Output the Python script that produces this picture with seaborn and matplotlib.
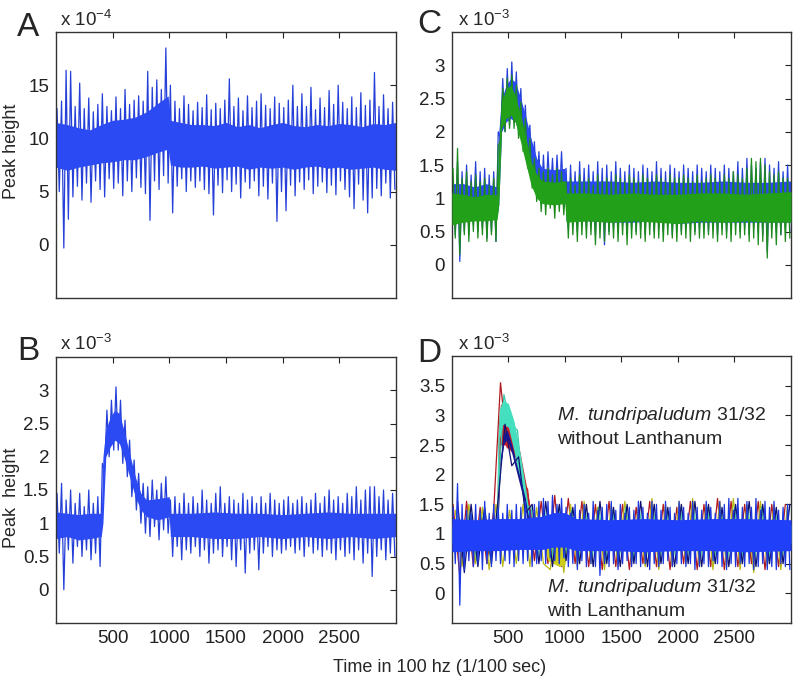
"""Peak height traces (A-D), redrawn from the figure."""

import matplotlib
matplotlib.use("Agg")
import matplotlib.pyplot as plt
import numpy as np
import seaborn as sns

sns.set_style("white")
plt.rcParams["font.family"] = ["Liberation Sans", "DejaVu Sans"]
plt.rcParams["mathtext.fontset"] = "custom"
plt.rcParams["mathtext.rm"] = "Liberation Sans"
plt.rcParams["mathtext.it"] = "Liberation Sans:italic"
plt.rcParams["mathtext.default"] = "regular"

# ---- data (time in 1/100 s) ----
# spike tips, alternating up/down along each trace
spike_t = np.arange(10, 3000, 20)          # A, B, C, D-blue (150 tips)
spike_t_red = np.arange(10, 3000, 60)      # extra traces in D (50 tips)
spike_t_yel = np.arange(30, 3000, 60)
spike_t_cyan = np.arange(40, 3000, 60)
spike_t_navy = np.arange(50, 3000, 60)

# Panel A (x 1e-4)
a_core_t = [0, 100, 200, 300, 400, 500, 600, 700, 800, 900, 990, 1010, 1100,
            1200, 1300, 1400, 1500, 1600, 1700, 1800, 1900, 2000, 2100, 2200,
            2300, 2400, 2500, 2600, 2700, 2800, 2900, 3000]
a_core_hi = [11.5, 11.3, 11.0, 10.8, 11.3, 11.7, 11.8, 12.0, 12.5, 13.3, 14.0,
             11.7, 11.5, 11.3, 11.3, 11.2, 11.5, 11.1, 11.3, 11.0, 11.3, 11.5,
             11.2, 11.1, 11.3, 11.2, 11.4, 11.3, 11.1, 11.4, 11.3, 11.5]
a_core_lo = [7.3, 7.0, 7.3, 7.5, 7.7, 7.8, 8.0, 8.0, 8.3, 8.7, 9.0, 7.5, 7.3,
             7.3, 7.4, 7.2, 7.3, 7.4, 7.1, 7.3, 7.2, 7.3, 7.1, 7.3, 7.4, 7.2,
             7.3, 7.1, 7.2, 7.3, 7.1, 7.0]
a_spikes = [12.8, 5.0, 13.5, -0.3, 16.4, 2.4, 16.3, 4.5, 13.0, 5.5,
            15.2, 4.2, 12.8, 5.8, 13.8, 4.0, 12.5, 6.0, 13.2, 5.2,
            14.2, 4.5, 13.0, 6.2, 12.6, 5.3, 13.9, 5.8, 12.8, 4.6,
            14.6, 6.0, 13.2, 5.0, 13.6, 6.3, 14.0, 5.4, 13.5, 4.8,
            16.3, 2.3, 14.8, 6.0, 15.5, 5.2, 14.6, 6.5, 18.5, 5.8,
            15.0, 3.0, 13.5, 5.5, 12.8, 6.2, 14.0, 5.0, 13.2, 6.0,
            12.6, 5.4, 13.4, 6.0, 12.9, 5.2, 14.1, 4.8, 12.7, 2.8,
            13.3, 5.6, 12.8, 4.9, 13.6, 6.1, 15.6, 5.0, 13.0, 5.7,
            13.8, 4.4, 12.6, 5.9, 14.0, 5.3, 12.9, 6.0, 13.5, 4.6,
            14.2, 5.5, 13.1, 4.3, 12.8, 5.8, 13.9, 2.2, 13.3, 5.0,
            12.9, 3.2, 13.6, 5.6, 15.0, 4.6, 13.0, 5.9, 14.2, 5.2,
            13.0, 6.1, 14.8, 4.8, 12.7, 5.5, 13.8, 5.9, 12.9, 4.9,
            14.5, 5.6, 13.2, 4.7, 15.0, 6.0, 13.4, 5.2, 12.8, 4.5,
            13.9, 3.4, 12.9, 5.7, 14.3, 4.2, 13.1, 3.0, 13.6, 4.4,
            16.2, 5.3, 13.0, 4.6, 14.1, 5.8, 12.8, 4.4, 13.4, 5.2]

# Panels B and C (x 1e-3)
peak_core_t = [0, 100, 200, 300, 400, 415, 440, 480, 520, 560, 600, 650, 700,
               750, 800, 900, 1000, 1010, 1200, 1400, 1600, 1800, 2000, 2200,
               2400, 2600, 2800, 3000]
b_core_hi = [1.17, 1.15, 1.13, 1.15, 1.15, 2.0, 2.4, 2.6, 2.7, 2.65, 2.4, 2.05,
             1.7, 1.45, 1.35, 1.37, 1.4, 1.15, 1.15, 1.17, 1.15, 1.15, 1.13,
             1.15, 1.17, 1.15, 1.15, 1.15]
b_core_lo = [0.77, 0.8, 0.75, 0.77, 0.8, 1.0, 2.0, 2.15, 2.25, 2.2, 2.0, 1.7,
             1.4, 1.2, 1.1, 1.05, 1.1, 0.8, 0.8, 0.77, 0.77, 0.8, 0.77, 0.8,
             0.77, 0.8, 0.77, 0.8]
b_spikes = [1.45, 0.55, 1.6, 0.0, 1.35, 0.6, 1.5, 0.4, 1.3, 0.65,
            1.45, 0.5, 1.25, 0.6, 1.5, 0.45, 1.3, 0.55, 1.4, 0.35,
            1.9, 1.8, 2.7, 2.0, 2.85, 2.1, 3.05, 2.1, 2.85, 1.9,
            2.55, 1.7, 2.25, 1.4, 1.95, 1.2, 1.75, 1.0, 1.6, 0.85,
            1.55, 0.8, 1.65, 0.95, 1.5, 0.75, 1.6, 0.9, 1.7, 0.85,
            1.35, 0.5, 1.4, 0.65, 1.3, 0.45, 1.45, 0.6, 1.3, 0.55,
            1.4, 0.65, 1.3, 0.5, 1.5, 0.6, 1.35, 0.4, 1.3, 0.55,
            1.45, 0.6, 1.55, 0.5, 1.3, 0.65, 1.4, 0.45, 1.35, 0.35,
            1.3, 0.6, 1.45, 0.25, 1.35, 0.55, 1.4, 0.6, 1.3, 0.3,
            1.4, 0.55, 1.3, 0.65, 1.45, 0.5, 1.35, 0.6, 1.3, 0.55,
            1.35, 0.6, 1.4, 0.65, 1.3, 0.55, 1.35, 0.6, 1.4, 0.5,
            1.3, 0.65, 1.35, 0.55, 1.45, 0.6, 1.3, 0.5, 1.4, 0.6,
            1.5, 0.55, 1.35, 0.45, 1.4, 0.6, 1.3, 0.5, 1.45, 0.55,
            1.4, 0.45, 1.55, 0.6, 1.35, 0.4, 1.5, 0.55, 1.55, 0.2,
            1.55, 0.5, 1.4, 0.6, 1.5, 0.45, 1.35, 0.55, 1.45, 0.5]

c_blue_hi = [1.22, 1.22, 1.17, 1.22, 1.17, 2.0, 2.5, 2.7, 2.8, 2.75, 2.55,
             2.25, 1.9, 1.6, 1.45, 1.43, 1.45, 1.26, 1.26, 1.26, 1.24, 1.26,
             1.24, 1.24, 1.26, 1.24, 1.24, 1.26]
c_blue_lo = [0.68, 0.73, 0.68, 0.68, 0.73, 0.9, 2.0, 2.15, 2.2, 2.15, 1.95,
             1.65, 1.35, 1.15, 1.05, 1.03, 1.05, 0.66, 0.66, 0.64, 0.64, 0.66,
             0.62, 0.64, 0.64, 0.64, 0.64, 0.64]
c_blue_spikes = [1.3, 0.45, 1.55, 0.05, 1.4, 0.5, 1.5, 0.45, 1.35, 0.6,
                 1.55, 0.5, 1.4, 0.55, 1.45, 0.4, 1.35, 0.5, 1.4, 0.35,
                 2.0, 1.9, 2.8, 2.0, 2.95, 2.1, 3.05, 2.15, 2.9, 2.0,
                 2.65, 1.8, 2.4, 1.55, 2.1, 1.3, 1.85, 1.1, 1.7, 0.95,
                 1.65, 0.9, 1.7, 1.0, 1.6, 0.9, 1.65, 0.95, 1.7, 0.9,
                 1.45, 0.55, 1.5, 0.6, 1.4, 0.5, 1.55, 0.6, 1.45, 0.55,
                 1.5, 0.6, 1.4, 0.45, 1.55, 0.55, 1.45, 0.3, 1.5, 0.5,
                 1.4, 0.55, 1.55, 0.5, 1.45, 0.6, 1.4, 0.45, 1.5, 0.55,
                 1.45, 0.5, 1.4, 0.55, 1.5, 0.45, 1.45, 0.6, 1.4, 0.5,
                 1.55, 0.55, 1.45, 0.5, 1.4, 0.6, 1.5, 0.45, 1.45, 0.55,
                 1.4, 0.5, 1.5, 0.55, 1.45, 0.6, 1.4, 0.5, 1.5, 0.55,
                 1.45, 0.6, 1.4, 0.5, 1.5, 0.55, 1.45, 0.45, 1.4, 0.55,
                 1.5, 0.5, 1.45, 0.55, 1.4, 0.6, 1.55, 0.5, 1.45, 0.55,
                 1.6, 0.45, 1.5, 0.55, 1.45, 0.5, 1.55, 0.45, 1.6, 0.2,
                 1.5, 0.55, 1.45, 0.5, 1.55, 0.45, 1.4, 0.55, 1.5, 0.5]
c_green_hi = [1.08, 1.06, 1.02, 1.06, 1.05, 1.8, 2.45, 2.65, 2.7, 2.55, 2.3,
              1.95, 1.55, 1.36, 1.26, 1.24, 1.26, 1.08, 1.08, 1.06, 1.08, 1.06,
              1.06, 1.08, 1.08, 1.06, 1.08, 1.1]
c_green_lo = [0.6, 0.64, 0.66, 0.66, 0.68, 0.9, 2.05, 2.2, 2.25, 2.15, 1.9,
              1.55, 1.2, 1.0, 0.92, 0.9, 0.92, 0.64, 0.66, 0.64, 0.66, 0.64,
              0.62, 0.66, 0.64, 0.66, 0.64, 0.64]
c_green_spikes = [1.45, 0.4, 1.75, 0.15, 1.3, 0.45, 1.4, 0.35, 1.25, 0.5,
                  1.35, 0.4, 1.25, 0.45, 1.3, 0.35, 1.2, 0.45, 1.3, 0.35,
                  1.8, 1.85, 2.65, 2.0, 2.8, 2.05, 2.85, 2.05, 2.7, 1.9,
                  2.45, 1.7, 2.2, 1.45, 1.9, 1.15, 1.6, 0.95, 1.45, 0.8,
                  1.4, 0.75, 1.45, 0.85, 1.35, 0.7, 1.45, 0.8, 1.4, 0.75,
                  1.25, 0.4, 1.3, 0.45, 1.2, 0.35, 1.35, 0.45, 1.25, 0.4,
                  1.3, 0.45, 1.2, 0.3, 1.35, 0.4, 1.25, 0.35, 1.3, 0.45,
                  1.25, 0.4, 1.35, 0.35, 1.3, 0.45, 1.25, 0.3, 1.35, 0.4,
                  1.3, 0.45, 1.25, 0.4, 1.35, 0.35, 1.3, 0.45, 1.25, 0.4,
                  1.35, 0.4, 1.3, 0.35, 1.25, 0.45, 1.35, 0.4, 1.3, 0.35,
                  1.3, 0.45, 1.35, 0.4, 1.3, 0.35, 1.25, 0.45, 1.35, 0.4,
                  1.25, 0.4, 1.3, 0.45, 1.35, 0.4, 1.3, 0.35, 1.25, 0.45,
                  1.35, 0.4, 1.3, 0.35, 1.4, 0.45, 1.35, 0.4, 1.3, 0.45,
                  1.45, 0.35, 1.6, 0.4, 1.55, 0.3, 1.6, 0.35, 1.5, 0.1,
                  1.4, 0.4, 1.35, 0.3, 1.4, 0.45, 1.3, 0.35, 1.3, 0.4]

# Panel D (x 1e-3)
d_blue_t = [0, 200, 400, 600, 800, 900, 1000, 1100, 1400, 1700, 2000, 2300,
            2600, 3000]
d_blue_hi = [1.26, 1.24, 1.26, 1.26, 1.3, 1.36, 1.36, 1.26, 1.24, 1.26, 1.24,
             1.26, 1.26, 1.24]
d_blue_lo = [0.7, 0.72, 0.72, 0.74, 0.74, 0.78, 0.78, 0.72, 0.72, 0.7, 0.72,
             0.72, 0.7, 0.72]
d_blue_spikes = [1.45, 0.5, 1.85, -0.2, 1.5, 0.4, 1.4, 0.55, 1.35, 0.45,
                 1.5, 0.5, 1.4, 0.4, 1.55, 0.5, 1.35, 0.45, 1.5, 0.55,
                 1.45, 0.5, 1.35, 0.55, 1.5, 0.5, 1.4, 0.45, 1.5, 0.55,
                 1.45, 0.5, 1.55, 0.55, 1.4, 0.45, 1.5, 0.5, 1.55, 0.55,
                 1.6, 0.5, 1.55, 0.6, 1.65, 0.55, 1.5, 0.5, 1.6, 0.6,
                 1.45, 0.45, 1.35, 0.5, 1.5, 0.4, 1.4, 0.55, 1.5, 0.45,
                 1.35, 0.5, 1.55, 0.45, 1.4, 0.3, 1.45, 0.5, 1.5, 0.45,
                 1.55, 0.5, 1.4, 0.4, 1.5, 0.5, 1.35, 0.55, 1.45, 0.45,
                 1.4, 0.5, 1.55, 0.45, 1.45, 0.5, 1.35, 0.4, 1.55, 0.5,
                 1.5, 0.45, 1.4, 0.5, 1.55, 0.55, 1.45, 0.45, 1.35, 0.5,
                 1.55, 0.5, 1.45, 0.45, 1.35, 0.5, 1.55, 0.4, 1.45, 0.45,
                 1.4, 0.5, 1.55, 0.45, 1.45, 0.55, 1.35, 0.5, 1.55, 0.45,
                 1.5, 0.4, 1.6, 0.5, 1.4, 0.45, 1.6, 0.5, 1.45, 0.45,
                 1.55, 0.5, 1.45, 0.4, 1.6, 0.45, 1.4, 0.5, 1.55, 0.4,
                 1.45, 0.45, 1.55, 0.4, 1.4, 0.5, 1.45, 0.45, 1.5, 0.4]

d_red_t = [0, 395, 410, 430, 470, 520, 560, 600, 640, 680, 720, 3000]
d_red_hi = [1.15, 1.15, 2.8, 3.2, 3.1, 2.9, 2.75, 2.4, 2.0, 1.6, 1.15, 1.15]
d_red_lo = [0.85, 0.85, 1.3, 2.5, 2.5, 2.4, 2.3, 2.0, 1.6, 1.2, 0.85, 0.85]
d_red_spikes = [1.5, 0.3, 1.55, 0.45, 1.45, 0.5, 1.4, 3.55, 2.45, 2.85,
                1.95, 1.75, 0.55, 1.55, 0.5, 1.65, 0.45, 1.6, 0.5, 1.55,
                0.45, 1.5, 0.4, 1.55, 0.45, 1.5, 0.4, 1.45, 0.5, 1.55,
                0.45, 1.5, 0.4, 1.45, 0.5, 1.55, 0.4, 1.5, 0.45, 1.6,
                0.4, 1.55, 0.45, 1.5, 0.5, 1.55, 0.4, 1.5, 0.45, 1.5]

d_yel_t = [0, 800, 850, 900, 950, 1000, 1030, 3000]
d_yel_hi = [1.15, 1.15, 1.1, 1.1, 1.1, 1.1, 1.15, 1.15]
d_yel_lo = [0.85, 0.85, 0.55, 0.5, 0.45, 0.5, 0.85, 0.85]
d_yel_spikes = [1.4, 0.45, 1.5, 0.5, 1.45, 0.4, 1.5, 0.45, 1.4, 0.5,
                1.5, 0.45, 1.45, 0.5, 0.4, 1.3, 0.35, 1.5, 0.45, 1.55,
                0.5, 1.45, 0.4, 1.5, 0.45, 1.55, 0.5, 1.45, 0.45, 1.6,
                0.4, 1.5, 0.45, 1.55, 0.5, 1.6, 0.45, 1.5, 0.4, 1.55,
                0.45, 1.6, 0.4, 1.5, 0.35, 1.55, 0.45, 1.5, 0.4, 1.5]

d_cyan_t = [0, 395, 405, 420, 450, 500, 550, 600, 650, 680, 700, 3000]
d_cyan_hi = [1.15, 1.15, 2.5, 3.1, 3.25, 3.2, 2.9, 2.4, 1.8, 1.4, 1.15, 1.15]
d_cyan_lo = [0.85, 0.85, 1.2, 2.6, 2.85, 2.8, 2.4, 1.9, 1.45, 1.1, 0.85, 0.85]
d_cyan_spikes = [1.35, 0.6, 1.4, 0.55, 1.35, 0.6, 1.3, 3.35, 2.85, 2.75,
                 1.5, 1.45, 0.6, 1.4, 0.55, 1.45, 0.6, 1.4, 0.55, 1.4,
                 0.6, 1.45, 0.55, 1.4, 0.6, 1.45, 0.55, 1.4, 0.6, 1.45,
                 0.55, 1.4, 0.6, 1.45, 0.55, 1.4, 0.6, 1.45, 0.55, 1.4,
                 0.6, 1.45, 0.55, 1.4, 0.6, 1.45, 0.55, 1.4, 0.6, 1.4]

d_navy_t = [0, 400, 430, 460, 490, 530, 570, 610, 650, 690, 3000]
d_navy_hi = [1.15, 1.15, 2.3, 2.7, 2.75, 2.5, 2.2, 1.9, 1.6, 1.15, 1.15]
d_navy_lo = [0.85, 0.85, 2.15, 2.52, 2.6, 2.36, 2.06, 1.76, 1.46, 0.85, 0.85]
d_navy_spikes = [1.55, 0.35, 1.5, 0.45, 1.45, 0.5, 1.6, 2.85, 2.15, 2.3,
                 1.35, 1.5, 0.5, 1.55, 0.45, 1.5, 0.55, 1.45, 0.5, 1.5,
                 0.45, 1.55, 0.5, 1.45, 0.45, 1.5, 0.5, 1.55, 0.45, 1.5,
                 0.5, 1.45, 0.45, 1.5, 0.5, 1.55, 0.45, 1.5, 0.5, 1.45,
                 0.45, 1.5, 0.5, 1.55, 0.45, 1.5, 0.5, 1.45, 0.5, 1.5]

BLUE, BLUE_EDGE = "#2b4af3", "#2540d8"
GREEN, GREEN_EDGE = "#22a01a", "#1d8a1d"
X_TICKS = [500, 1000, 1500, 2000, 2500]


def draw_trace(ax, z, core_t, hi, lo, spk_t, spk_v, fill, edge, lw=0.9):
    """Spikes as a thin zigzag, dense core band painted over it."""
    sns.lineplot(x=spk_t, y=spk_v, ax=ax, color=edge, lw=lw,
                 estimator=None, zorder=z)
    ax.fill_between(core_t, lo, hi, color=fill, lw=0, zorder=z + 0.5)


def style_axes(ax, ylim, yticks, xlabels):
    ax.set_xlim(1, 3000)
    ax.set_ylim(*ylim)
    ax.set_xticks(X_TICKS)
    ax.set_xticklabels([str(v) for v in X_TICKS] if xlabels else [])
    ax.set_yticks(yticks)
    ax.set_yticklabels([f"{v:g}" for v in yticks])
    ax.tick_params(direction="in", top=True, right=True, length=4,
                   width=0.8, labelsize=13.5, pad=5, colors="#222222")
    for sp in ax.spines.values():
        sp.set_color("#333333")
        sp.set_linewidth(1.0)
    ax.set_xlabel("")
    ax.set_ylabel("")


W, H = 793, 679
fig = plt.figure(figsize=(W / 100, H / 100), dpi=100)


def add_axes(left, top, right, bottom):
    return fig.add_axes([left / W, 1 - bottom / H, (right - left) / W,
                         (bottom - top) / H])


ax_a = add_axes(56, 32, 396, 298)
ax_b = add_axes(56, 357, 396, 623)
ax_c = add_axes(452, 32, 791, 298)
ax_d = add_axes(452, 356, 791, 623)

# --- A ---
draw_trace(ax_a, 2, a_core_t, a_core_hi, a_core_lo, spike_t, a_spikes,
           BLUE, BLUE_EDGE)
style_axes(ax_a, (-5, 20), [0, 5, 10, 15], False)

# --- B ---
draw_trace(ax_b, 2, peak_core_t, b_core_hi, b_core_lo, spike_t, b_spikes,
           BLUE, BLUE_EDGE)
style_axes(ax_b, (-0.5, 3.5), [0, 0.5, 1, 1.5, 2, 2.5, 3], True)

# --- C ---
draw_trace(ax_c, 2, peak_core_t, c_blue_hi, c_blue_lo, spike_t,
           c_blue_spikes, BLUE, BLUE_EDGE)
draw_trace(ax_c, 3, peak_core_t, c_green_hi, c_green_lo, spike_t,
           c_green_spikes, GREEN, GREEN_EDGE)
style_axes(ax_c, (-0.5, 3.5), [0, 0.5, 1, 1.5, 2, 2.5, 3], False)

# --- D ---
draw_trace(ax_d, 2, d_red_t, d_red_hi, d_red_lo, spike_t_red, d_red_spikes,
           "#c8202a", "#b01820")
draw_trace(ax_d, 3, d_yel_t, d_yel_hi, d_yel_lo, spike_t_yel, d_yel_spikes,
           "#cccc1a", "#b8b818")
draw_trace(ax_d, 4, d_cyan_t, d_cyan_hi, d_cyan_lo, spike_t_cyan,
           d_cyan_spikes, "#44dfbf", "#38c8aa")
draw_trace(ax_d, 5, d_navy_t, d_navy_hi, d_navy_lo, spike_t_navy,
           d_navy_spikes, "#16168e", "#101070")
draw_trace(ax_d, 6, d_blue_t, d_blue_hi, d_blue_lo, spike_t, d_blue_spikes,
           "#1f3ff8", "#1c36e0")
style_axes(ax_d, (-0.5, 4.0), [0, 0.5, 1, 1.5, 2, 2.5, 3, 3.5], True)

ax_d.text(927, 2.99, r"$\it{M.\ tundripaludum}$ 31/32", fontsize=14,
          va="center", ha="left", zorder=10)
ax_d.text(927, 2.59, "without Lanthanum", fontsize=14, va="center",
          ha="left", zorder=10)
ax_d.text(844, 0.1, r"$\it{M.\ tundripaludum}$ 31/32", fontsize=14,
          va="center", ha="left", zorder=10)
ax_d.text(844, -0.3, "with Lanthanum", fontsize=14, va="center", ha="left",
          zorder=10)

# panel letters, exponents and labels
for lab, x, y in [("A", 17, 36), ("B", 17, 360), ("C", 417, 33),
                  ("D", 417, 362)]:
    fig.text(x / W, 1 - y / H, lab, fontsize=24, va="baseline", ha="left")
for txt, x, y in [(r"x 10$^{-4}$", 60, 26), (r"x 10$^{-3}$", 60, 350),
                  (r"x 10$^{-3}$", 458, 26), (r"x 10$^{-3}$", 458, 350)]:
    fig.text(x / W, 1 - y / H, txt, fontsize=13.5, va="baseline", ha="left")

fig.text(12 / W, 1 - 151 / H, "Peak height", rotation=90, fontsize=13,
         va="center", ha="center")
fig.text(12 / W, 1 - 498 / H, "Peak  height", rotation=90, fontsize=13,
         va="center", ha="center")
fig.text(440 / W, 1 - 667 / H, "Time in 100 hz (1/100 sec)", fontsize=13,
         va="center", ha="center")

fig.savefig("out.png", dpi=100)
